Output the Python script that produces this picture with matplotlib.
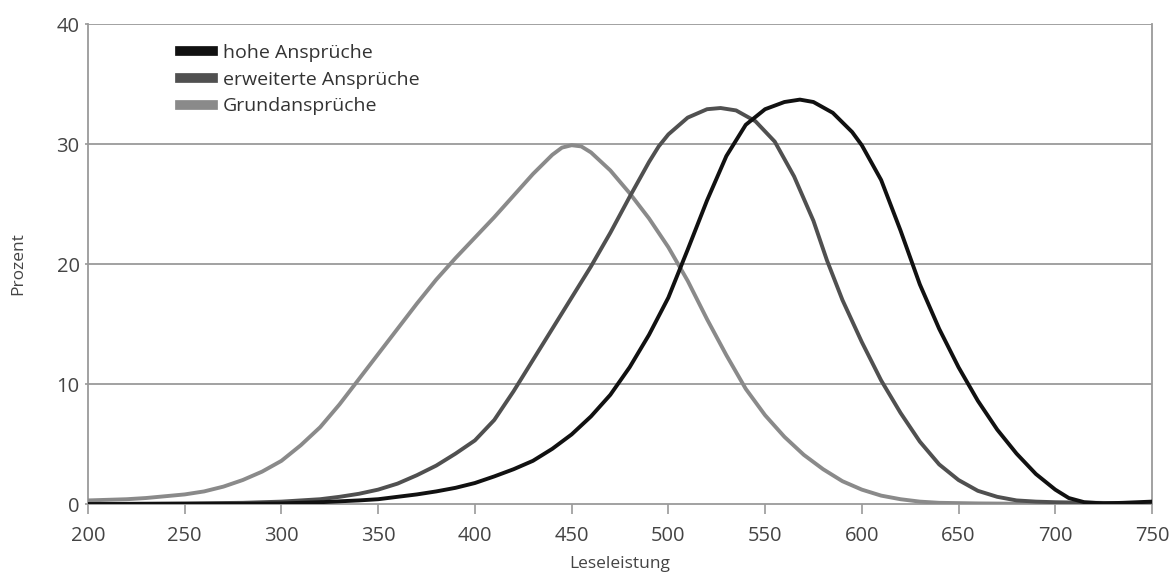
import matplotlib
matplotlib.use("Agg")
import matplotlib.pyplot as plt

plt.rcParams['font.family'] = ['Open Sans', 'DejaVu Sans']

# Leseleistung / Prozent
grund_x = [200, 210, 220, 230, 240, 250, 260, 270, 280, 290, 300, 310, 320, 330, 340, 350,
           360, 370, 380, 390, 400, 410, 420, 430, 440, 445, 450, 455, 460, 470, 480, 490,
           500, 510, 520, 530, 540, 550, 560, 570, 580, 590, 600, 610, 620, 630, 640, 660,
           700, 750]
grund_y = [0.3, 0.35, 0.4, 0.5, 0.65, 0.8, 1.05, 1.45, 2.0, 2.7, 3.6, 4.9, 6.4, 8.3, 10.4, 12.5,
           14.6, 16.7, 18.7, 20.5, 22.2, 23.9, 25.7, 27.5, 29.1, 29.7, 29.9, 29.8, 29.3, 27.8, 25.9, 23.8,
           21.4, 18.6, 15.4, 12.4, 9.6, 7.4, 5.6, 4.1, 2.9, 1.9, 1.2, 0.7, 0.4, 0.2, 0.1, 0.05,
           0, 0]

erw_x = [200, 250, 280, 300, 320, 330, 340, 350, 360, 370, 380, 390, 400, 410, 420, 430,
         440, 450, 460, 470, 480, 490, 495, 500, 510, 520, 527, 535, 545, 555, 565, 575,
         582, 590, 600, 610, 620, 630, 640, 650, 660, 670, 680, 690, 700, 720, 750]
erw_y = [0, 0.05, 0.1, 0.2, 0.4, 0.6, 0.85, 1.2, 1.7, 2.4, 3.2, 4.2, 5.3, 7.0, 9.4, 12.0,
         14.6, 17.2, 19.8, 22.6, 25.6, 28.5, 29.8, 30.8, 32.2, 32.9, 33.0, 32.8, 31.9, 30.2, 27.3, 23.6,
         20.3, 17.0, 13.5, 10.3, 7.6, 5.2, 3.3, 2.0, 1.1, 0.6, 0.3, 0.2, 0.15, 0.1, 0.05]

hoch_x = [200, 280, 300, 320, 340, 350, 360, 370, 380, 390, 400, 410, 420, 430, 440, 450,
          460, 470, 480, 490, 500, 510, 520, 530, 540, 550, 560, 568, 575, 585, 595, 600,
          610, 620, 630, 640, 650, 660, 670, 680, 690, 700, 707, 715, 725, 735, 750]
hoch_y = [0, 0.02, 0.05, 0.15, 0.3, 0.4, 0.6, 0.8, 1.05, 1.35, 1.75, 2.3, 2.9, 3.6, 4.6, 5.8,
          7.3, 9.1, 11.4, 14.1, 17.2, 21.2, 25.3, 29.0, 31.6, 32.9, 33.5, 33.7, 33.5, 32.6, 31.0, 29.9,
          27.0, 22.8, 18.3, 14.6, 11.4, 8.6, 6.2, 4.2, 2.5, 1.2, 0.5, 0.15, 0.05, 0.1, 0.2]

x_ticks = [200, 250, 300, 350, 400, 450, 500, 550, 600, 650, 700, 750]
y_ticks = [0, 10, 20, 30, 40]

fig = plt.figure(figsize=(11.75, 5.8), dpi=100)
ax = fig.add_axes([0.0749, 0.131, 0.9055, 0.8276])

for yv in y_ticks[1:]:
    ax.axhline(yv, color='#9a9a9a', lw=1.3, zorder=1)

ax.plot(grund_x, grund_y, color='#8a8a8a', lw=2.8, solid_joinstyle='round', zorder=3,
        label='Grundansprüche')
ax.plot(erw_x, erw_y, color='#505050', lw=2.8, solid_joinstyle='round', zorder=4,
        label='erweiterte Ansprüche')
ax.plot(hoch_x, hoch_y, color='#111111', lw=2.8, solid_joinstyle='round', zorder=5,
        label='hohe Ansprüche')

ax.set_xlim(200, 750)
ax.set_ylim(0, 40)
ax.set_xticks(x_ticks)
ax.set_yticks(y_ticks)

for s in ['left', 'right', 'bottom']:
    ax.spines[s].set_color('#9a9a9a')
    ax.spines[s].set_linewidth(1.3)
ax.spines['top'].set_visible(False)

ax.tick_params(axis='x', direction='out', length=7, width=1.2, color='#9a9a9a',
               labelsize=14.5, labelcolor='#444444', pad=9)
ax.tick_params(axis='y', direction='out', length=2, width=1.2, color='#9a9a9a',
               labelsize=14.5, labelcolor='#444444', pad=4)

ax.set_xlabel('Leseleistung', fontsize=12.5, color='#444444', labelpad=7)
ax.set_ylabel('Prozent', fontsize=12.5, color='#444444', labelpad=22)

handles, labels = ax.get_legend_handles_labels()
leg = ax.legend(handles[::-1], labels[::-1], loc='upper left', bbox_to_anchor=(0.07, 0.995),
                frameon=False, fontsize=14, handlelength=1.7, labelspacing=0.45,
                handletextpad=0.5)
for h in leg.get_lines():
    h.set_linewidth(7)
for t in leg.get_texts():
    t.set_color('#333333')

fig.savefig('out.png', dpi=100)
